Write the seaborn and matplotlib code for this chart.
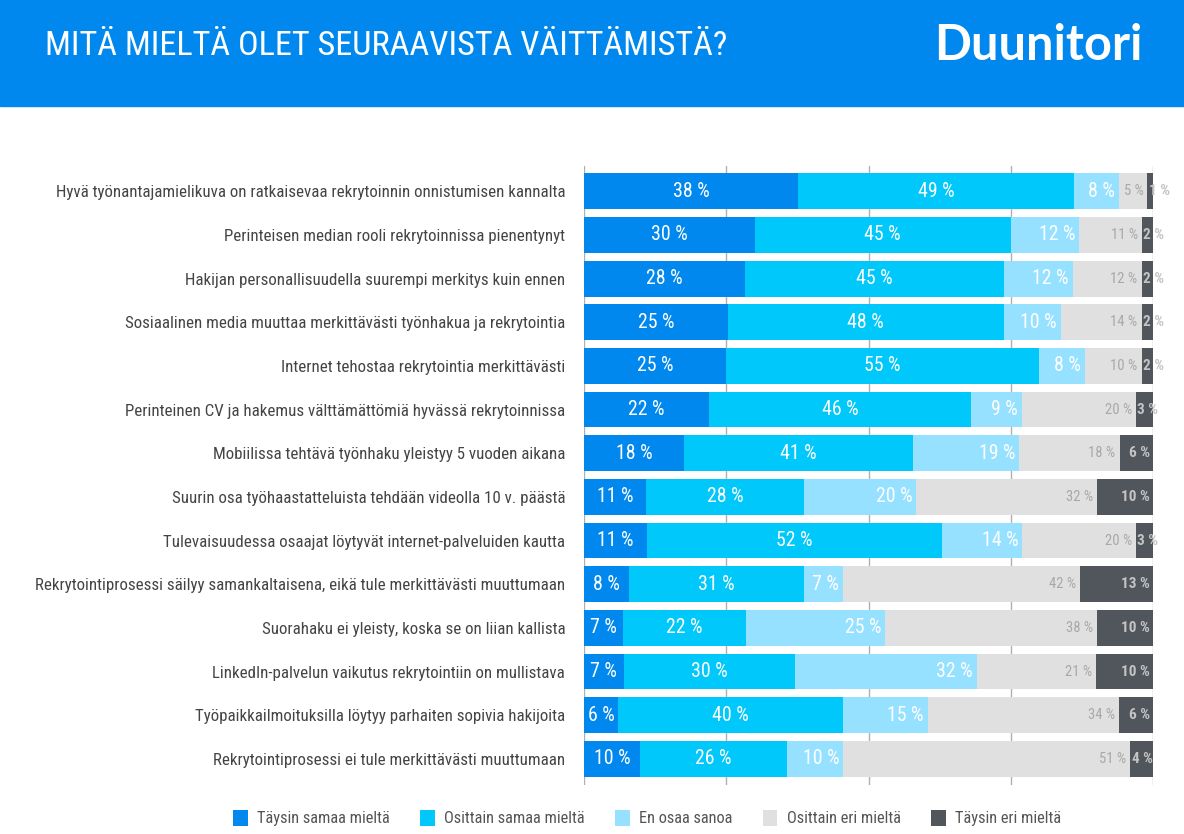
import numpy as np
import pandas as pd
import matplotlib.pyplot as plt
import seaborn as sns
from matplotlib import font_manager
from matplotlib.patches import Patch, Rectangle

# === Data ===
statements = [
    "Hyvä työnantajamielikuva on ratkaisevaa rekrytoinnin onnistumisen kannalta",
    "Perinteisen median rooli rekrytoinnissa pienentynyt",
    "Hakijan personallisuudella suurempi merkitys kuin ennen",
    "Sosiaalinen media muuttaa merkittävästi työnhakua ja rekrytointia",
    "Internet tehostaa rekrytointia merkittävästi",
    "Perinteinen CV ja hakemus välttämättömiä hyvässä rekrytoinnissa",
    "Mobiilissa tehtävä työnhaku yleistyy 5 vuoden aikana",
    "Suurin osa työhaastatteluista tehdään videolla 10 v. päästä",
    "Tulevaisuudessa osaajat löytyvät internet-palveluiden kautta",
    "Rekrytointiprosessi säilyy samankaltaisena, eikä tule merkittävästi muuttumaan",
    "Suorahaku ei yleisty, koska se on liian kallista",
    "LinkedIn-palvelun vaikutus rekrytointiin on mullistava",
    "Työpaikkailmoituksilla löytyy parhaiten sopivia hakijoita",
    "Rekrytointiprosessi ei tule merkittävästi muuttumaan",
]
taysin_samaa = [38, 30, 28, 25, 25, 22, 18, 11, 11, 8, 7, 7, 6, 10]
osittain_samaa = [49, 45, 45, 48, 55, 46, 41, 28, 52, 31, 22, 30, 40, 26]
en_osaa = [8, 12, 12, 10, 8, 9, 19, 20, 14, 7, 25, 32, 15, 10]
osittain_eri = [5, 11, 12, 14, 10, 20, 18, 32, 20, 42, 38, 21, 34, 51]
taysin_eri = [1, 2, 2, 2, 2, 3, 6, 10, 3, 13, 10, 10, 6, 4]

series_names = ["Täysin samaa mieltä", "Osittain samaa mieltä", "En osaa sanoa",
                "Osittain eri mieltä", "Täysin eri mieltä"]
colors = ["#0088ee", "#00c8fa", "#96e1ff", "#e0e0e0", "#51555c"]

title = "MITÄ MIELTÄ OLET SEURAAVISTA VÄITTÄMISTÄ?"
brand = "Duunitori"

# === Fonts (prefer a narrow face if one is installed) ===
available = {f.name for f in font_manager.fontManager.ttflist}
narrow = None
for cand in ["Roboto Condensed", "Liberation Sans Narrow", "Open Sans Condensed", "Arial Narrow"]:
    if cand in available:
        narrow = cand
        break
if narrow:
    base, fs_tick, fs_title, fs_in, fs_small, fs_leg = narrow, 12.2, 24.7, 14.3, 10.5, 11.8
else:
    base, fs_tick, fs_title, fs_in, fs_small, fs_leg = "Roboto", 11, 22, 13, 9.5, 10.5
logo_font = "Lato" if "Lato" in available else "DejaVu Sans"

sns.set_theme(style="white")
plt.rcParams["font.family"] = [base, "DejaVu Sans"]

# === Stacked, normalised to 100 ===
values = np.array([taysin_samaa, osittain_samaa, en_osaa, osittain_eri, taysin_eri], dtype=float)
shares = values / values.sum(axis=0) * 100
cum = np.cumsum(shares, axis=0)

fig = plt.figure(figsize=(11.84, 8.34), dpi=100)
fig.patches.append(Rectangle((0, 1 - 106 / 834), 1, 106 / 834, transform=fig.transFigure,
                             color="#0088ee", zorder=0))
fig.text(45 / 1184, 1 - 46 / 834, title, color="white", fontsize=fs_title, va="center", ha="left")
fig.text(1142 / 1184, 1 - 45 / 834, brand, color="white", fontsize=35, fontweight="bold",
         va="center", ha="right", family=logo_font)

ax = fig.add_axes([584 / 1184, 1 - 785 / 834, (1153 - 584) / 1184, (785 - 166) / 834])

for k in range(4, -1, -1):
    df = pd.DataFrame({"statement": statements, "value": cum[k]})
    sns.barplot(data=df, x="value", y="statement", orient="h", color=colors[k],
                saturation=1, width=0.82, errorbar=None, linewidth=0, ax=ax)

# === Labels ===
for i in range(len(statements)):
    for k in range(5):
        start = cum[k - 1, i] if k > 0 else 0
        end = cum[k, i]
        txt = f"{int(values[k, i])} %"
        if k < 2:
            ax.text((start + end) / 2, i, txt, color="white", fontsize=fs_in,
                    ha="center", va="center")
        elif k == 2:
            ax.text(end - 0.7, i, txt, color="white", fontsize=fs_in, ha="right", va="center")
        elif k == 3:
            ax.text(end - 0.7, i, txt, color="#a8a8a8", fontsize=fs_small, ha="right", va="center")
        else:
            if end - start >= 5:
                ax.text(end - 0.5, i, txt, color="#c4c4c4", fontsize=fs_small + 0.5,
                        fontweight="bold", ha="right", va="center")
            else:
                ax.text(start + 0.2, i, txt, color="#c4c4c4", fontsize=fs_small + 0.5,
                        fontweight="bold", ha="left", va="center", clip_on=False)

ax.set_xlim(0, 100)
ax.set_ylim(len(statements) - 0.4, -0.58)
ax.set_xticks([0, 25, 50, 75, 100])
ax.grid(axis="x", color="#b0b0b0", linewidth=1)
ax.grid(axis="y", visible=False)
ax.set_axisbelow(True)
ax.tick_params(axis="x", length=0, labelbottom=False)
ax.tick_params(axis="y", length=0, pad=13.5, labelsize=fs_tick, labelcolor="#444444")
ax.set_xlabel("")
ax.set_ylabel("")
sns.despine(ax=ax, left=True, bottom=True)

handles = [Patch(facecolor=c, edgecolor="none") for c in colors]
fig.legend(handles, series_names, loc="center", bbox_to_anchor=(647 / 1184, 1 - 818 / 834),
           ncol=5, frameon=False, fontsize=fs_leg, handlelength=0.9, handleheight=1.15,
           handletextpad=0.56, columnspacing=1.85, labelcolor="#555555")

fig.savefig("out.png", dpi=100)
